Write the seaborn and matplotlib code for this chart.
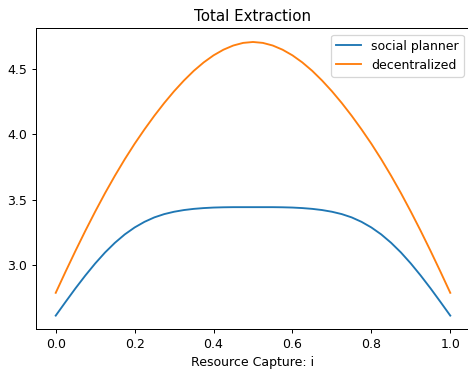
import matplotlib
matplotlib.use("Agg")
import matplotlib.pyplot as plt
import seaborn as sns
import pandas as pd

x_vals = [0.000, 0.025, 0.050, 0.075, 0.100, 0.125, 0.150, 0.175, 0.200, 0.225,
          0.250, 0.275, 0.300, 0.325, 0.350, 0.375, 0.400, 0.425, 0.450, 0.475,
          0.500, 0.525, 0.550, 0.575, 0.600, 0.625, 0.650, 0.675, 0.700, 0.725,
          0.750, 0.775, 0.800, 0.825, 0.850, 0.875, 0.900, 0.925, 0.950, 0.975, 1.000]

social_planner = [2.616, 2.721, 2.824, 2.922, 3.014, 3.098, 3.172, 3.236, 3.289, 3.332,
                  3.366, 3.391, 3.409, 3.422, 3.431, 3.437, 3.441, 3.443, 3.444, 3.444,
                  3.444, 3.444, 3.444, 3.443, 3.441, 3.437, 3.431, 3.422, 3.409, 3.391,
                  3.366, 3.332, 3.289, 3.236, 3.172, 3.098, 3.014, 2.922, 2.824, 2.721, 2.616]

decentralized = [2.790, 2.952, 3.110, 3.263, 3.410, 3.551, 3.684, 3.810, 3.928, 4.038,
                 4.142, 4.239, 4.329, 4.411, 4.485, 4.549, 4.603, 4.646, 4.678, 4.698,
                 4.705, 4.698, 4.678, 4.646, 4.603, 4.549, 4.485, 4.411, 4.329, 4.239,
                 4.142, 4.038, 3.928, 3.810, 3.684, 3.551, 3.410, 3.263, 3.110, 2.952, 2.790]

series_names = ["social planner", "decentralized"]
colors = ["#1f77b4", "#ff7f0e"]

df = pd.DataFrame({
    "i": x_vals * 2,
    "value": social_planner + decentralized,
    "series": [series_names[0]] * len(x_vals) + [series_names[1]] * len(x_vals),
})

fig = plt.figure(figsize=(468 / 90, 373 / 90), dpi=90)
ax = fig.add_axes([36 / 468, 43.7 / 373, 434 / 468, 301 / 373])

sns.lineplot(data=df, x="i", y="value", hue="series", palette=colors,
             linewidth=1.5, ax=ax, estimator=None, sort=False)

ax.set_title("Total Extraction", fontsize=12)
ax.set_xlabel("Resource Capture: i", fontsize=10)
ax.set_ylabel("")
ax.set_xticks([0.0, 0.2, 0.4, 0.6, 0.8, 1.0])
ax.set_yticks([3.0, 3.5, 4.0, 4.5])
handles, labels = ax.get_legend_handles_labels()
ax.legend(handles, labels, loc="upper right", title=None)

fig.savefig("out.png", dpi=90)
